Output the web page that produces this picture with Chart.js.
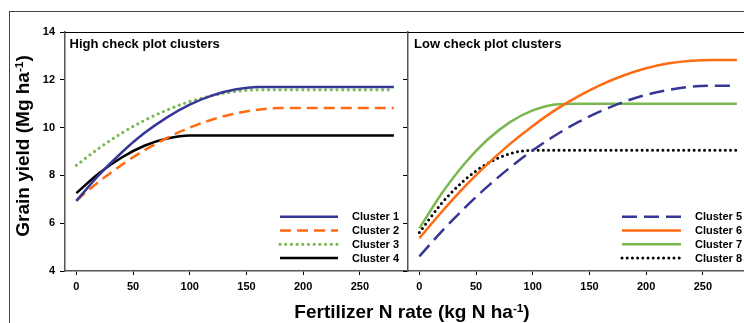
<!DOCTYPE html>
<html><head><meta charset="utf-8">
<script src="https://cdn.jsdelivr.net/npm/chart.js@4/dist/chart.umd.min.js"></script>
<style>
html,body{margin:0;padding:0;background:#fff;overflow:hidden;width:744px;height:323px;}
#wrap{position:relative;width:744px;height:323px;overflow:hidden;font-family:"Liberation Sans",Arial,sans-serif;}
#frame{position:absolute;left:9px;top:11px;width:800px;height:400px;border-top:1.5px solid #444;border-left:1.5px solid #444;}
#c1{position:absolute;left:0;top:0;}
#c2{position:absolute;left:400px;top:0;}
.ytitle{position:absolute;left:-97px;top:134px;width:240px;height:24px;line-height:24px;text-align:center;transform:rotate(-90deg);font-weight:bold;font-size:19px;color:#000;white-space:nowrap;}
.xtitle{position:absolute;left:212px;top:300px;width:400px;height:24px;line-height:24px;text-align:center;font-weight:bold;font-size:19px;color:#000;white-space:nowrap;}
sup{font-size:0.62em;vertical-align:0.55em;line-height:0;}
</style></head>
<body>
<div id="wrap">
<div id="frame"></div>
<canvas id="c1" width="408" height="323" style="width:408px;height:323px"></canvas>
<canvas id="c2" width="352" height="323" style="width:352px;height:323px"></canvas>
<div class="ytitle">Grain yield (Mg ha<sup>-1</sup>)</div>
<div class="xtitle">Fertilizer N rate (kg N ha<sup>-1</sup>)</div>
</div>
<script>
// ---- data ----
const nRates   = [0, 20, 40, 60, 80, 100, 120, 140, 160, 180, 200, 220, 240, 260, 280];
const cluster1 = [6.93, 8.02, 8.96, 9.77, 10.43, 10.96, 11.35, 11.59, 11.70, 11.70, 11.70, 11.70, 11.70, 11.70, 11.70];
const cluster2 = [6.95, 7.74, 8.44, 9.05, 9.57, 10.00, 10.34, 10.59, 10.75, 10.82, 10.82, 10.82, 10.82, 10.82, 10.82];
const cluster3 = [8.42, 9.14, 9.77, 10.30, 10.74, 11.09, 11.34, 11.51, 11.58, 11.58, 11.58, 11.58, 11.58, 11.58, 11.58];
const cluster4 = [7.26, 8.09, 8.75, 9.24, 9.54, 9.67, 9.67, 9.67, 9.67, 9.67, 9.67, 9.67, 9.67, 9.67, 9.67];
const cluster5 = [4.61, 5.67, 6.64, 7.53, 8.33, 9.05, 9.68, 10.23, 10.69, 11.07, 11.37, 11.58, 11.71, 11.75, 11.75];
const cluster6 = [5.37, 6.49, 7.53, 8.47, 9.32, 10.07, 10.74, 11.31, 11.79, 12.18, 12.48, 12.69, 12.80, 12.83, 12.83];
const cluster7 = [5.78, 7.26, 8.50, 9.49, 10.23, 10.72, 10.97, 11.00, 11.00, 11.00, 11.00, 11.00, 11.00, 11.00, 11.00];
const cluster8 = [5.61, 6.85, 7.81, 8.50, 8.91, 9.05, 9.05, 9.05, 9.05, 9.05, 9.05, 9.05, 9.05, 9.05, 9.05];
const xTickValues = [0, 50, 100, 150, 200, 250];
const yTickValues = [4, 6, 8, 10, 12, 14];
const leftNames  = ['Cluster 1', 'Cluster 2', 'Cluster 3', 'Cluster 4'];
const rightNames = ['Cluster 5', 'Cluster 6', 'Cluster 7', 'Cluster 8'];
const panelTitles = ['High check plot clusters', 'Low check plot clusters'];

const BLUE = '#363696', ORANGE = '#FF6A12', GREEN = '#7BB751', BLACK = '#000000';
const pts = arr => nRates.map((x, i) => ({x: x, y: arr[i]}));
const FONT = '"Liberation Sans", Arial, sans-serif';

function ds(label, arr, color, width, dash, cap) {
  return {label: label, data: pts(arr), borderColor: color, backgroundColor: color,
    borderWidth: width, borderDash: dash || [], borderCapStyle: cap || 'butt',
    pointRadius: 0, fill: false, cubicInterpolationMode: 'monotone'};
}

const panelPlugin = {
  id: 'panelDeco',
  afterDatasetsDraw(chart, args, opts) {
    const ctx = chart.ctx, a = chart.chartArea;
    ctx.save();
    // top border
    ctx.strokeStyle = '#000'; ctx.lineWidth = 1; ctx.setLineDash([]);
    ctx.beginPath(); ctx.moveTo(a.left, 32.5); ctx.lineTo(a.right + 2, 32.5); ctx.stroke();
    // panel title
    ctx.fillStyle = '#000';
    ctx.font = 'bold 13px ' + FONT;
    ctx.textBaseline = 'alphabetic'; ctx.textAlign = 'left';
    ctx.fillText(opts.title, opts.tx, 47.5);
    // legend
    const L = opts.legend;
    chart.data.datasets.forEach((d, i) => {
      const y = L.y0 + i * L.dy;
      ctx.save();
      ctx.strokeStyle = d.borderColor; ctx.lineWidth = d.borderWidth;
      ctx.setLineDash(d.borderDash || []); ctx.lineCap = d.borderCapStyle || 'butt';
      ctx.beginPath(); ctx.moveTo(L.x1, y); ctx.lineTo(L.x2, y); ctx.stroke();
      ctx.restore();
      ctx.fillStyle = '#000'; ctx.font = 'bold 11px ' + FONT;
      ctx.textBaseline = 'middle'; ctx.textAlign = 'left';
      ctx.fillText(d.label, L.xt, y + 0.5);
    });
    ctx.restore();
  }
};

function makeScales(showY, yWidth) {
  return {
    x: {type: 'linear', min: -10, max: 292,
      afterBuildTicks: s => { s.ticks = xTickValues.map(v => ({value: v})); },
      afterFit: s => { s.height = 52; },
      ticks: {color: '#000', font: {family: FONT, size: 11, weight: 'bold'}, padding: 5, maxRotation: 0, autoSkip: false},
      grid: {display: true, drawOnChartArea: false, drawTicks: true, tickLength: 4, color: '#000', lineWidth: 1},
      border: {display: true, color: '#555', width: 1.5}},
    y: {type: 'linear', min: 4, max: 14,
      afterBuildTicks: s => { s.ticks = yTickValues.map(v => ({value: v})); },
      afterFit: s => { s.width = yWidth; },
      ticks: {display: showY, color: '#000', font: {family: FONT, size: 11, weight: 'bold'}, padding: 5},
      grid: {display: true, drawOnChartArea: false, drawTicks: true, tickLength: 5, color: '#000', lineWidth: 1},
      border: {display: true, color: '#555', width: 1.5}}
  };
}

function baseOptions(showY, yWidth, padRight, title, tx, legend) {
  return {
    responsive: false, animation: false, devicePixelRatio: 1,
    layout: {padding: {top: 32, left: 0, right: padRight, bottom: 0}},
    plugins: {legend: {display: false}, tooltip: {enabled: false},
      panelDeco: {title: title, tx: tx, legend: legend}},
    scales: makeScales(showY, yWidth)
  };
}

new Chart(document.getElementById('c1'), {
  type: 'line',
  data: {datasets: [
    ds(leftNames[0], cluster1, BLUE, 2.5),
    ds(leftNames[1], cluster2, ORANGE, 2.5, [11, 6]),
    ds(leftNames[2], cluster3, GREEN, 3.2, [0, 5.7], 'round'),
    ds(leftNames[3], cluster4, BLACK, 2.5)
  ]},
  options: baseOptions(true, 65, 0.5, panelTitles[0], 69.5,
    {x1: 280, x2: 338, xt: 352, y0: 216.7, dy: 13.8}),
  plugins: [panelPlugin]
});

new Chart(document.getElementById('c2'), {
  type: 'line',
  data: {datasets: [
    ds(rightNames[0], cluster5, BLUE, 2.5, [15, 7]),
    ds(rightNames[1], cluster6, ORANGE, 2.5),
    ds(rightNames[2], cluster7, GREEN, 2.5),
    ds(rightNames[3], cluster8, BLACK, 3, [0, 5.2], 'round')
  ]},
  options: baseOptions(false, 8, 1.5, panelTitles[1], 14,
    {x1: 222, x2: 281, xt: 295, y0: 216.7, dy: 13.8}),
  plugins: [panelPlugin]
});
</script>
</body></html>
